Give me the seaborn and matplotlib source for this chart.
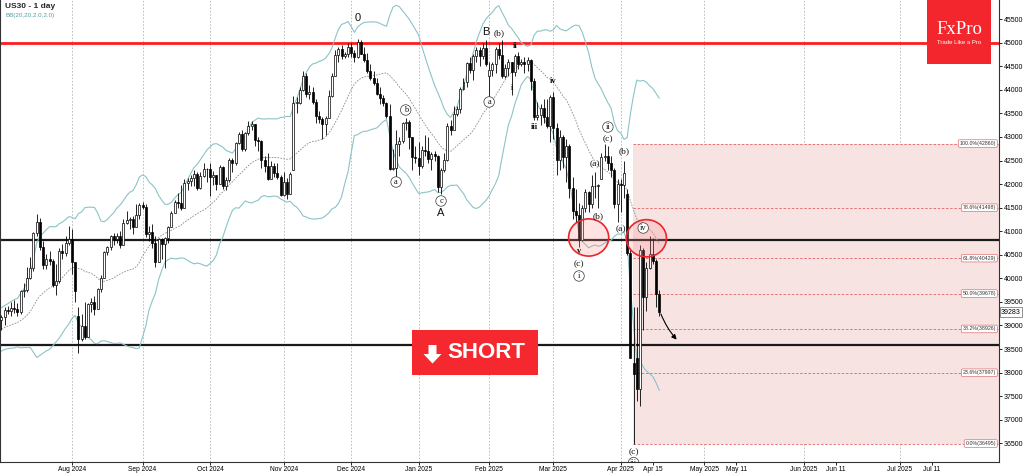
import numpy as np
import pandas as pd
import matplotlib
matplotlib.use("Agg")
import matplotlib.pyplot as plt
import seaborn as sns
from matplotlib.patches import Ellipse, Rectangle, Polygon

# ---- US30 daily bars, 1 Jul 2024 .. 17 Apr 2025 (one line per month) ----
open_ = [
    39119, 39170, 39331, 39308, 39375, 39344, 39291, 39721, 39753, 40001, 40212, 40954, 41198, 40665, 40288, 40415, 40358, 39854, 39935, 40589, 40539, 40743,
    40842, 40347, 39200, 38703, 38997, 38763, 39446, 39497, 39357, 39765, 40008, 40563, 40659, 40896, 40834, 40890, 40712, 41175, 41240, 41250, 41091, 41335,
    41563, 41520, 40937, 40974, 40755, 40345, 40830, 40737, 40861, 41097, 41394, 41622, 41606, 41503, 42025, 42063, 42124, 42208, 41915, 42175, 42313,
    42330, 42156, 42196, 42011, 42353, 41954, 42080, 42512, 42454, 42863, 43065, 42740, 43077, 43239, 43276, 42931, 42924, 42514, 42374, 42114, 42387, 42233, 42142,
    41763, 42052, 41794, 42300, 43729, 43729, 43989, 44293, 43911, 43958, 43751, 43445, 43390, 43269, 43408, 43870, 44297, 44737, 44861, 44722, 44760,
    44911, 44782, 44705, 45014, 44766, 44643, 44402, 44248, 44149, 43915, 43828, 43717, 43450, 42327, 42343, 42841, 42907, 43297, 43326, 42992, 42574,
    42544, 42392, 42732, 42707, 42528, 42635, 42600, 41938, 42297, 42518, 43222, 43153, 43488, 43600, 44025, 44157, 44565, 44424, 44714, 44850, 44714, 44883,
    44300, 44422, 44556, 44873, 44747, 44303, 44470, 44594, 44368, 44711, 44546, 44600, 44556, 44628, 44177, 43428, 43461, 43621, 43433, 43240,
    43841, 43191, 42521, 43006, 42579, 42801, 41912, 41433, 41350, 40814, 41489, 41842, 41581, 41965, 41953, 42100, 42583, 42587, 42455, 42300, 41584,
    42002, 41989, 41800, 40546, 38200, 38300, 37646, 40609, 39594, 40213, 40525, 40369, 39669,
]
high = [
    39230, 39390, 39420, 39500, 39550, 39480, 39760, 39900, 40250, 40450, 40980, 41375, 41270, 40800, 40510, 40570, 40420, 40300, 40640, 40720, 40900, 41100,
    41050, 40350, 39400, 39250, 39500, 39480, 39580, 39620, 39800, 40080, 40590, 40690, 40920, 40960, 40970, 41000, 41250, 41420, 41300, 41330, 41580, 41600,
    41620, 41580, 41120, 41150, 40900, 40850, 40860, 40880, 41120, 41420, 41660, 41820, 41990, 42100, 42130, 42190, 42300, 42260, 42250, 42450, 42350,
    42450, 42270, 42200, 42400, 42380, 42150, 42550, 42550, 42900, 43100, 43150, 43100, 43330, 43340, 43280, 43000, 42930, 42600, 42650, 42480, 42450, 42450, 42200,
    42250, 42120, 42250, 43860, 43850, 44050, 44400, 44350, 44100, 44050, 43800, 43560, 43420, 43450, 44000, 44350, 44850, 44900, 44960, 44800, 45000,
    45000, 44850, 45070, 45060, 44900, 44780, 44550, 44400, 44250, 44050, 43900, 43750, 43700, 42750, 43150, 43000, 43320, 43400, 43350, 43000, 42800,
    42900, 42800, 43050, 43000, 42680, 42700, 42620, 42340, 42650, 43300, 43360, 43650, 43650, 44050, 44250, 44600, 44700, 44750, 44900, 44900, 45000, 45050,
    44600, 44600, 44900, 45000, 45050, 44550, 44650, 44600, 44750, 44800, 44650, 44700, 44700, 44650, 44250, 43750, 43700, 43800, 43800, 43880,
    43950, 43300, 43150, 43050, 42950, 42850, 42150, 41900, 41600, 41550, 41900, 41850, 42200, 42250, 42000, 42650, 42860, 42800, 42600, 42350, 42100,
    42100, 42500, 41900, 40600, 39400, 39400, 40700, 40650, 40350, 40900, 40850, 40400, 39750,
]
low = [
    38900, 39000, 39250, 39200, 39270, 39200, 39250, 39600, 39700, 39980, 40150, 40900, 40600, 40200, 40200, 40280, 39820, 39650, 39900, 40400, 40480, 40700,
    40100, 39500, 38420, 38680, 38720, 38760, 39280, 39220, 39350, 39700, 40000, 40500, 40600, 40700, 40750, 40650, 40700, 41150, 41050, 40950, 41080, 41250,
    41480, 40880, 40800, 40650, 40250, 40340, 40420, 40220, 40750, 41080, 41380, 41500, 41450, 41500, 41870, 41950, 41950, 41880, 41900, 42150, 42050,
    41750, 41980, 41880, 42000, 41900, 41880, 42050, 42250, 42400, 42850, 42700, 42700, 43050, 43150, 42800, 42700, 42350, 42250, 42080, 42100, 42150, 42100, 41750,
    41750, 41680, 41790, 42300, 43500, 43700, 43980, 43850, 43800, 43700, 43300, 43300, 42950, 43050, 43400, 43850, 44290, 44600, 44650, 44680, 44700,
    44700, 44600, 44680, 44750, 44580, 44350, 44200, 44100, 43890, 43700, 43650, 43400, 42300, 42300, 42050, 42600, 42880, 43150, 42750, 42300, 42450,
    42200, 42350, 42600, 42450, 42300, 42500, 41840, 41800, 42250, 42500, 43050, 43150, 43450, 43500, 44000, 44050, 44350, 44200, 44600, 44500, 44650, 44500,
    43800, 44300, 44350, 44650, 44250, 44250, 44300, 43900, 44300, 44450, 44500, 44350, 44400, 44000, 43350, 43350, 43250, 43300, 43200, 42900,
    42950, 42200, 42300, 42350, 42050, 41700, 41250, 41200, 40660, 40800, 41400, 41400, 41500, 41700, 41500, 42100, 42500, 42300, 42150, 41500, 41200,
    41400, 41700, 40500, 38300, 36495, 37400, 37300, 38900, 39300, 40200, 40300, 39400, 39200,
]
close = [
    39170, 39331, 39308, 39375, 39344, 39291, 39721, 39753, 40001, 40212, 40954, 41198, 40665, 40288, 40415, 40358, 39854, 39935, 40589, 40539, 40743, 40842,
    40347, 39737, 38703, 38997, 38763, 39446, 39497, 39357, 39765, 40008, 40563, 40659, 40896, 40834, 40890, 40712, 41175, 41240, 41250, 41091, 41335, 41563,
    41520, 40937, 40974, 40755, 40345, 40830, 40737, 40861, 41097, 41394, 41622, 41606, 41503, 42025, 42063, 42124, 42208, 41915, 42175, 42313, 42330,
    42156, 42196, 42011, 42353, 41954, 42080, 42512, 42454, 42863, 43065, 42740, 43077, 43239, 43276, 42931, 42924, 42514, 42374, 42114, 42387, 42233, 42142, 41763,
    42052, 41794, 42222, 43729, 43729, 43989, 44293, 43911, 43958, 43751, 43445, 43390, 43269, 43408, 43870, 44297, 44737, 44861, 44722, 44760, 44911,
    44782, 44705, 45014, 44766, 44643, 44402, 44248, 44149, 43915, 43828, 43717, 43450, 42327, 42343, 42841, 42907, 43297, 43326, 42992, 42574, 42544,
    42392, 42732, 42707, 42528, 42635, 42600, 41938, 42297, 42518, 43222, 43153, 43488, 43600, 44025, 44157, 44565, 44424, 44714, 44850, 44714, 44883, 44545,
    44422, 44556, 44873, 44747, 44303, 44470, 44594, 44368, 44711, 44546, 44600, 44556, 44628, 44177, 43428, 43461, 43621, 43433, 43240, 43841,
    43191, 42521, 43006, 42579, 42801, 41912, 41433, 41350, 40814, 41489, 41842, 41581, 41965, 41953, 41985, 42583, 42587, 42455, 42300, 41584, 42002,
    41989, 42226, 40546, 38315, 37966, 37646, 40609, 39594, 40213, 40525, 40369, 39669, 39283,
]
# June 2024 closes, only used to warm up the Bollinger bands (off screen)
june_close = [38571, 38711, 38807, 38886, 38799, 38868, 38747, 38712, 38647, 38589,
              38778, 38834, 39134, 39150, 39411, 39112, 39127, 39164, 39119]

closed_days = ["2024-07-04", "2024-12-25", "2025-01-01"]
days = pd.bdate_range("2024-07-01", "2025-04-17").drop(pd.to_datetime(closed_days))

key_levels = [40810, 38590]
resistance = 45000
fib_pct = [100.0, 78.6, 61.8, 50.0, 38.2, 23.6, 0.0]
fib_top, fib_bottom = 42860, 36495
last_price = 39283

tick_days = ["2024-08-01", "2024-09-01", "2024-10-01", "2024-11-01", "2024-12-01", "2025-01-01",
             "2025-02-01", "2025-03-01", "2025-04-01", "2025-04-15", "2025-05-01", "2025-05-11",
             "2025-06-01", "2025-06-11", "2025-07-01", "2025-07-11"]
tick_labels = ["Aug 2024", "Sep 2024", "Oct 2024", "Nov 2024", "Dec 2024", "Jan 2025",
               "Feb 2025", "Mar 2025", "Apr 2025", "Apr 15", "May 2025", "May 11",
               "Jun 2025", "Jun 11", "Jul 2025", "Jul 11"]

# elliott wave marks: text, day, price, kind
waves = [
    ("0", "2024-12-04", 45524, "big"), ("B", "2025-01-31", 45227, "big"),
    ("A", "2025-01-13", 41387, "big"),
    ("(b)", "2025-02-06", 45206, "paren"), ("ii", "2025-02-13", 44930, "roman"),
    ("i", "2025-02-12", 44039, "roman"), ("a", "2025-02-03", 43742, "circle"),
    ("iv", "2025-03-03", 44187, "roman"), ("iii", "2025-02-21", 43211, "roman"),
    ("b", "2024-12-26", 43572, "circle"), ("a", "2024-12-20", 42044, "circle"),
    ("c", "2025-01-13", 41641, "circle"),
    ("(a)", "2025-03-20", 42426, "paren"), ("ii", "2025-03-26", 43211, "circle"),
    ("(c)", "2025-03-26", 42957, "paren"), ("(b)", "2025-04-02", 42702, "paren"),
    ("(b)", "2025-03-21", 41323, "paren"), ("(a)", "2025-04-01", 41047, "paren"),
    ("v", "2025-03-13", 40580, "roman"), ("(c)", "2025-03-13", 40305, "paren"),
    ("i", "2025-03-13", 40050, "circle"), ("iv", "2025-04-10", 41068, "circle"),
    ("(c)", "2025-04-07", 36316, "paren"), ("iii", "2025-04-07", 36090, "circle"),
]
circle_marks = [("2025-03-18", 40867), ("2025-04-11", 40850)]


def bar_pos(day):
    # trading bars for the past, calendar days after the last bar
    day = pd.Timestamp(day)
    if day <= days[-1]:
        return int(days.searchsorted(day))
    return len(days) - 1 + (day - days[-1]).days


sns.set_theme(style="white")
plt.rcParams["font.family"] = ["Liberation Sans", "DejaVu Sans"]

W, H = 1024, 474
fig = plt.figure(figsize=(W / 100, H / 100), dpi=100)
ax = fig.add_axes([0, 12 / H, 999 / W, 462 / H])

o = np.array(open_, float)
h = np.array(high, float)
l = np.array(low, float)
c = np.array(close, float)
x = np.arange(len(c))
assert len(days) == len(c) == len(o) == len(h) == len(l)

# bollinger 20, 2.0
allc = pd.Series(june_close + close, dtype=float)
mid = allc.rolling(20).mean().to_numpy()[-len(c):]
sd = allc.rolling(20).std(ddof=0).to_numpy()[-len(c):]
bb = pd.DataFrame({"x": x, "mid": mid, "up": mid + 2 * sd, "dn": mid - 2 * sd})

x_right = (999 - 1.4) / 3.209
ax.set_xlim(-1.4 / 3.209, x_right)
ax.set_ylim(36103, 45906)

# month grid
for d, lab in zip(tick_days, tick_labels):
    if "20" in lab:
        ax.axvline(bar_pos(d), color="#b5b5b5", lw=0.6, ls=(0, (2, 2)), zorder=0)

# fibonacci zone
fib_x0 = bar_pos("2025-04-07") - 0.2
ax.add_patch(Rectangle((fib_x0, fib_bottom), x_right - fib_x0, fib_top - fib_bottom,
                       facecolor="#f8e3e3", edgecolor="none", zorder=0.5))
for p in fib_pct:
    lvl = fib_bottom + p / 100 * (fib_top - fib_bottom)
    ax.plot([fib_x0, x_right], [lvl, lvl], color="#e06464", lw=0.6, ls=(0, (3, 2)), zorder=1)
    ax.text(0.997, lvl, f"{p:.1f}%({lvl:.0f})", transform=ax.get_yaxis_transform(),
            ha="right", va="center", fontsize=3.8, color="#333333", zorder=6,
            bbox=dict(boxstyle="round,pad=0.25", fc="white", ec="#e07070", lw=0.5))

# horizontal levels
ax.axhline(resistance, color="#ff1c1c", lw=2.0, zorder=2)
for lv in key_levels:
    ax.axhline(lv, color="#1a1a1a", lw=1.6, zorder=2)

# bands
sns.lineplot(data=bb, x="x", y="up", ax=ax, color="#8cc3c7", lw=0.8, zorder=2)
sns.lineplot(data=bb, x="x", y="dn", ax=ax, color="#8cc3c7", lw=0.8, zorder=2)
sns.lineplot(data=bb, x="x", y="mid", ax=ax, color="#8a8a8a", lw=0.6, zorder=2,
             dashes=False, linestyle=(0, (2, 1.5)))

# candles
up = c >= o
body_lo = np.minimum(o, c)
body_h = np.maximum(np.abs(c - o), 12)
ax.vlines(x, l, h, color="black", lw=0.6, zorder=3)
ax.bar(x[up], body_h[up], bottom=body_lo[up], width=0.62, color="white",
       edgecolor="black", linewidth=0.5, zorder=4)
ax.bar(x[~up], body_h[~up], bottom=body_lo[~up], width=0.62, color="black",
       edgecolor="black", linewidth=0.5, zorder=4)

# red circles
for d, pr in circle_marks:
    ax.add_patch(Ellipse((bar_pos(d), pr), 12.5, 790, facecolor=(1, 0.55, 0.55, 0.25),
                         edgecolor="#e8262b", lw=1.2, zorder=5))

# wave labels
for txt, d, pr, kind in waves:
    kw = dict(ha="center", va="center", zorder=6, clip_on=True, color="#111111")
    if kind == "big":
        ax.text(bar_pos(d), pr, txt, fontsize=8, **kw)
    elif kind == "circle":
        ax.text(bar_pos(d), pr, txt, fontsize=6, family="Liberation Serif",
                bbox=dict(boxstyle="circle,pad=0.15", fc="white", ec="#333333", lw=0.5), **kw)
    elif kind == "paren":
        ax.text(bar_pos(d), pr, txt, fontsize=6.8, family="Liberation Serif", **kw)
    else:
        ax.text(bar_pos(d), pr, txt, fontsize=6, family="Liberation Serif",
                fontweight="bold", **kw)

# projected move
ax.annotate("", xy=(bar_pos("2025-04-23"), 38656), xytext=(len(c) - 1 + 0.2, 39300),
            arrowprops=dict(arrowstyle="-|>", color="black", lw=0.8, mutation_scale=7,
                            connectionstyle="arc3,rad=0.1"), zorder=6)

# axes styling
ax.yaxis.tick_right()
ax.set_yticks(np.arange(36500, 45501, 500))
ax.set_yticklabels([str(v) for v in range(36500, 45501, 500)], fontsize=5)
ax.set_xticks([bar_pos(d) for d in tick_days])
ax.set_xticklabels(tick_labels, fontsize=4.8)
ax.tick_params(axis="both", length=2.2, width=0.6, pad=1, colors="black", direction="out")
ax.tick_params(axis="y", right=True, left=False)
ax.tick_params(axis="x", bottom=True)
ax.set_xlabel("")
ax.set_ylabel("")
for side in ["left", "right", "bottom"]:
    ax.spines[side].set_visible(True)
    ax.spines[side].set_color("#333333")
    ax.spines[side].set_linewidth(0.8)
ax.spines["top"].set_visible(False)

ax.text(1.002, last_price, str(last_price), transform=ax.get_yaxis_transform(),
        ha="left", va="center", fontsize=5, color="black", clip_on=False, zorder=7,
        bbox=dict(boxstyle="square,pad=0.2", fc="white", ec="#666666", lw=0.5))

# header texts
fig.text(5 / W, 1 - 7 / H, "US30 - 1 day", fontsize=6, fontweight="bold", va="center")
fig.text(6 / W, 1 - 16 / H, "BB(20,20,2.0,2.0)", fontsize=4.5, color="#4f9fa6", va="center")

# FxPro logo
fig.add_artist(Rectangle((927 / W, 1 - 64 / H), 64 / W, 64 / H, transform=fig.transFigure,
                         facecolor="#f2262c", edgecolor="none", zorder=10))
fig.text(959 / W, 1 - 29 / H, "FxPro", fontsize=13.5, family="Liberation Serif", color="white",
         ha="center", va="center", zorder=11)
fig.text(959 / W, 1 - 42 / H, "Trade Like a Pro", fontsize=4.3, color="white",
         ha="center", va="center", zorder=11)

# SHORT button
fig.add_artist(Rectangle((412 / W, 1 - 375 / H), 126 / W, 45 / H, transform=fig.transFigure,
                         facecolor="#f5282f", edgecolor="none", zorder=10))
arrow_px = [(428.5, 345), (436.5, 345), (436.5, 354), (441.5, 354), (432.5, 363.5),
            (423.5, 354), (428.5, 354)]
fig.add_artist(Polygon([(px / W, 1 - py / H) for px, py in arrow_px], closed=True,
                       transform=fig.transFigure, facecolor="white", edgecolor="none", zorder=11))
fig.text(486 / W, 1 - 353 / H, "SHORT", fontsize=16, fontweight="bold", color="white",
         ha="center", va="center", zorder=11)

fig.savefig("out.png", dpi=100, facecolor="white")
